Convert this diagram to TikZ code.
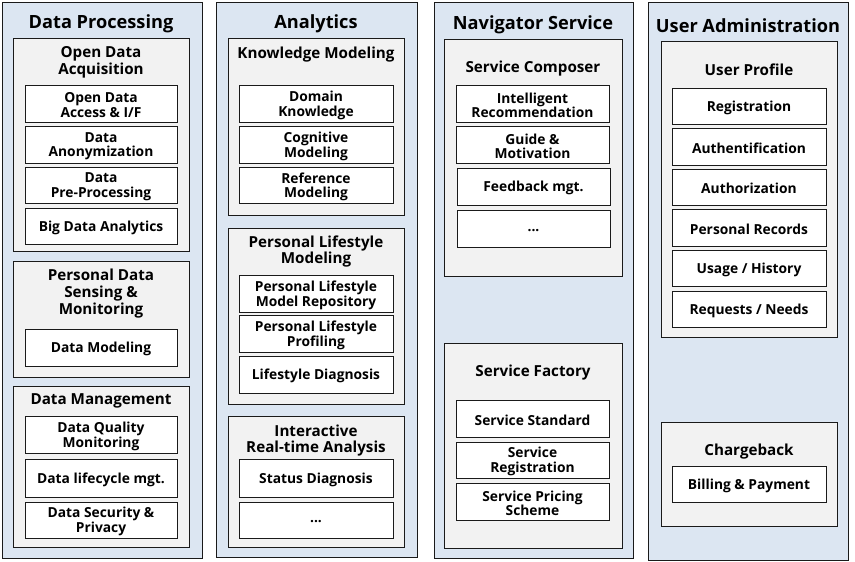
\documentclass[tikz,border=0pt]{standalone}
\usepackage{fontspec}
\setmainfont{Open Sans}
\definecolor{colblue}{HTML}{DCE6F2}
\definecolor{grpgray}{HTML}{F2F2F2}
\definecolor{edge}{HTML}{1A1A1A}
\newcommand\mkframe[6]{\node[#6, minimum width={#4-#2}, minimum height={#5-#3}] (#1) at ({(#2+#4)/2},{(#3+#5)/2}) {};}
\newcommand\mkitem[6]{\node[itembox, minimum width={#4-#2}, minimum height={#5-#3}] (#1) at ({(#2+#4)/2},{(#3+#5)/2}) {};
  \node[itemtext] (#1l) at ([yshift=-1.8pt]#1.center) {#6};}
\begin{document}
\begin{tikzpicture}[x=1pt,y=-1pt,
  colbox/.style={draw=edge, fill=colblue, line width=0.9pt, inner sep=0pt},
  grpbox/.style={draw=edge, fill=grpgray, line width=0.8pt, inner sep=0pt},
  itembox/.style={draw=edge, fill=white, line width=0.8pt, inner sep=0pt},
  itemtext/.style={inner sep=0pt, align=center, font=\fontsize{13.8}{14.8}\selectfont\bfseries},
  coltitle/.style={inner sep=0pt, align=center, font=\fontsize{18.2}{20}\selectfont\bfseries},
  grptitle/.style={inner sep=0pt, align=center, font=\fontsize{15.2}{16.8}\selectfont\bfseries}]
\path[use as bounding box, fill=white] (0,0) rectangle (855,562);
% Column 1
\mkframe{c1}{2}{2}{202}{558}{colbox}
\node[coltitle] (c1t) at (101,23.5) {Data Processing};
\mkframe{g11}{13}{38}{189}{251}{grpbox}
\node[grptitle] (g11t) at (101,62.5) {Open Data\\Acquisition};
\mkitem{i111}{25}{85}{177}{122}{Open Data\\Access \& I/F}
\mkitem{i112}{25}{126}{177}{163}{Data\\Anonymization}
\mkitem{i113}{25}{167}{177}{203}{Data\\Pre-Processing}
\mkitem{i114}{25}{208}{177}{244}{Big Data Analytics}
\mkframe{g12}{13}{261}{189}{377}{grpbox}
\node[grptitle] (g12t) at (101,293.5) {Personal Data\\Sensing \&\\Monitoring};
\mkitem{i121}{25}{329}{177}{366}{Data Modeling}
\mkframe{g13}{13}{386}{189}{547}{grpbox}
\node[grptitle] (g13t) at (101,400.5) {Data Management};
\mkitem{i131}{25}{416}{177}{453}{Data Quality\\Monitoring}
\mkitem{i132}{25}{459}{177}{497}{Data lifecycle mgt.}
\mkitem{i133}{25}{502}{177}{538}{Data Security \&\\Privacy}
% Column 2
\mkframe{c2}{216}{2}{417}{557}{colbox}
\node[coltitle] (c2t) at (316,23.5) {Analytics};
\mkframe{g21}{228}{38}{404}{215}{grpbox}
\node[grptitle] (g21t) at (316,54.5) {Knowledge Modeling};
\mkitem{i211}{239}{85}{393}{122}{Domain\\Knowledge}
\mkitem{i212}{239}{126}{393}{163}{Cognitive\\Modeling}
\mkitem{i213}{239}{167}{393}{203}{Reference\\Modeling}
\mkframe{g22}{228}{228}{404}{404}{grpbox}
\node[grptitle] (g22t) at (316,251.5) {Personal Lifestyle\\Modeling};
\mkitem{i221}{239}{275}{393}{312}{Personal Lifestyle\\Model Repository}
\mkitem{i222}{239}{315}{393}{352}{Personal Lifestyle\\Profiling}
\mkitem{i223}{239}{356}{393}{393}{Lifestyle Diagnosis}
\mkframe{g23}{228}{416}{404}{547}{grpbox}
\node[grptitle] (g23t) at (316,440.5) {Interactive\\Real-time Analysis};
\mkitem{i231}{239}{459}{393}{497}{Status Diagnosis}
\mkitem{i232}{239}{502}{393}{538}{...}
% Column 3
\mkframe{c3}{434}{2}{633}{558}{colbox}
\node[coltitle] (c3t) at (533,25) {Navigator Service};
\mkframe{g31}{444}{39}{622}{276}{grpbox}
\node[grptitle] (g31t) at (533,68.5) {Service Composer};
\mkitem{i311}{456}{85}{609}{122}{Intelligent\\Recommendation}
\mkitem{i312}{456}{126}{609}{163}{Guide \&\\Motivation}
\mkitem{i313}{457}{168}{610}{205}{Feedback mgt.}
\mkitem{i314}{457}{210}{610}{247}{...}
\mkframe{g32}{444}{343}{622}{548}{grpbox}
\node[grptitle] (g32t) at (533,372.5) {Service Factory};
\mkitem{i321}{456}{400}{609}{437}{Service Standard}
\mkitem{i322}{456}{442}{609}{478}{Service\\Registration}
\mkitem{i323}{456}{483}{609}{520}{Service Pricing\\Scheme}
% Column 4
\mkframe{c4}{648}{2}{848}{560}{colbox}
\node[coltitle] (c4t) at (748,26) {User Administration};
\mkframe{g41}{661}{41}{837}{337}{grpbox}
\node[grptitle] (g41t) at (749,69.5) {User Profile};
\mkitem{i411}{672}{88}{826}{124}{Registration}
\mkitem{i412}{672}{128}{826}{165}{Authentification}
\mkitem{i413}{672}{169}{826}{205}{Authorization}
\mkitem{i414}{672}{209}{826}{246}{Personal Records}
\mkitem{i415}{672}{250}{826}{286}{Usage / History}
\mkitem{i416}{672}{291}{826}{327}{Requests / Needs}
\mkframe{g42}{661}{422}{837}{526}{grpbox}
\node[grptitle] (g42t) at (749,451.5) {Chargeback};
\mkitem{i421}{672}{466}{826}{502}{Billing \& Payment}
\end{tikzpicture}
\end{document}
